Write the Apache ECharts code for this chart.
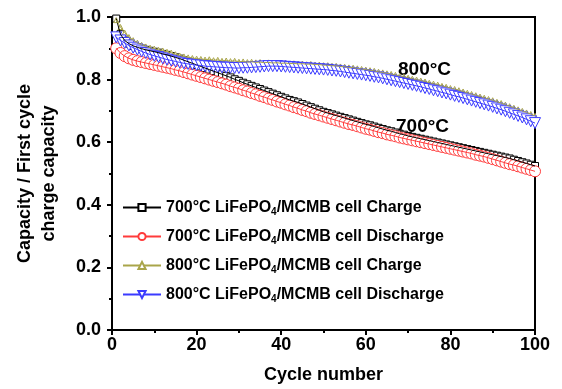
<!DOCTYPE html>
<html>
<head>
<meta charset="utf-8">
<script src="https://cdn.jsdelivr.net/npm/echarts@6/dist/echarts.min.js"></script>
<style>
  html, body { margin: 0; padding: 0; background: #fff; }
  #chart { width: 562px; height: 389px; }
</style>
</head>
<body>
<div id="chart"></div>
<script>
// Capacity retention of LiFePO4/MCMB cells, normalised to first-cycle charge capacity
const cycles = Array.from({ length: 100 }, (_, i) => i + 1);

const seriesNames = [
  '700°C LiFePO4/MCMB cell Charge',
  '700°C LiFePO4/MCMB cell Discharge',
  '800°C LiFePO4/MCMB cell Charge',
  '800°C LiFePO4/MCMB cell Discharge'
];

const charge700 = [
  0.995, 0.945, 0.925, 0.915, 0.908, 0.903, 0.899, 0.895, 0.892, 0.889,
  0.886, 0.882, 0.879, 0.875, 0.871, 0.867, 0.862, 0.857, 0.852, 0.847,
  0.842, 0.837, 0.832, 0.827, 0.822, 0.817, 0.812, 0.807, 0.801, 0.796,
  0.790, 0.785, 0.780, 0.775, 0.770, 0.765, 0.760, 0.755, 0.750, 0.745,
  0.740, 0.735, 0.731, 0.727, 0.722, 0.717, 0.712, 0.707, 0.702, 0.697,
  0.693, 0.689, 0.685, 0.681, 0.677, 0.673, 0.669, 0.665, 0.661, 0.657,
  0.654, 0.650, 0.646, 0.642, 0.638, 0.635, 0.631, 0.627, 0.624, 0.620,
  0.617, 0.614, 0.611, 0.608, 0.605, 0.602, 0.599, 0.596, 0.593, 0.590,
  0.587, 0.584, 0.581, 0.578, 0.575, 0.572, 0.569, 0.566, 0.563, 0.560,
  0.557, 0.554, 0.551, 0.548, 0.544, 0.540, 0.536, 0.532, 0.528, 0.524
];

const discharge700 = [
  0.900, 0.885, 0.875, 0.868, 0.863, 0.859, 0.856, 0.853, 0.850, 0.847,
  0.844, 0.841, 0.838, 0.835, 0.831, 0.828, 0.824, 0.820, 0.816, 0.812,
  0.808, 0.804, 0.800, 0.796, 0.792, 0.788, 0.784, 0.779, 0.775, 0.771,
  0.766, 0.762, 0.757, 0.753, 0.748, 0.744, 0.739, 0.735, 0.730, 0.726,
  0.721, 0.717, 0.712, 0.708, 0.703, 0.699, 0.694, 0.690, 0.686, 0.682,
  0.678, 0.674, 0.670, 0.666, 0.662, 0.658, 0.655, 0.651, 0.647, 0.643,
  0.640, 0.636, 0.632, 0.629, 0.625, 0.622, 0.619, 0.615, 0.612, 0.609,
  0.606, 0.603, 0.600, 0.597, 0.594, 0.591, 0.588, 0.585, 0.582, 0.579,
  0.576, 0.573, 0.570, 0.567, 0.564, 0.560, 0.557, 0.554, 0.550, 0.546,
  0.542, 0.538, 0.534, 0.530, 0.527, 0.523, 0.519, 0.515, 0.511, 0.507
];

const charge800 = [
  0.990, 0.968, 0.950, 0.936, 0.926, 0.918, 0.911, 0.906, 0.902, 0.899,
  0.895, 0.893, 0.889, 0.886, 0.881, 0.877, 0.874, 0.871, 0.869, 0.867,
  0.866, 0.864, 0.865, 0.862, 0.863, 0.860, 0.861, 0.859, 0.860, 0.857,
  0.858, 0.856, 0.857, 0.855, 0.856, 0.854, 0.855, 0.853, 0.854, 0.852,
  0.853, 0.851, 0.852, 0.850, 0.851, 0.849, 0.850, 0.848, 0.848, 0.846,
  0.846, 0.844, 0.844, 0.842, 0.841, 0.839, 0.838, 0.836, 0.834, 0.832,
  0.830, 0.828, 0.825, 0.823, 0.820, 0.818, 0.815, 0.812, 0.809, 0.806,
  0.803, 0.800, 0.797, 0.794, 0.790, 0.787, 0.784, 0.780, 0.777, 0.773,
  0.770, 0.766, 0.762, 0.758, 0.754, 0.750, 0.746, 0.742, 0.738, 0.734,
  0.729, 0.725, 0.720, 0.715, 0.710, 0.705, 0.700, 0.695, 0.690, 0.684
];

const discharge800 = [
  0.935, 0.925, 0.917, 0.909, 0.902, 0.896, 0.890, 0.885, 0.880, 0.876,
  0.872, 0.868, 0.864, 0.861, 0.858, 0.855, 0.852, 0.850, 0.848, 0.846,
  0.845, 0.843, 0.842, 0.841, 0.840, 0.839, 0.838, 0.838, 0.837, 0.837,
  0.838, 0.838, 0.839, 0.840, 0.841, 0.842, 0.843, 0.843, 0.843, 0.842,
  0.841, 0.840, 0.839, 0.838, 0.837, 0.836, 0.835, 0.834, 0.833, 0.832,
  0.831, 0.829, 0.828, 0.826, 0.824, 0.822, 0.820, 0.818, 0.816, 0.814,
  0.812, 0.809, 0.807, 0.804, 0.801, 0.798, 0.795, 0.792, 0.789, 0.786,
  0.783, 0.780, 0.777, 0.773, 0.770, 0.766, 0.763, 0.759, 0.756, 0.752,
  0.748, 0.745, 0.741, 0.737, 0.733, 0.729, 0.725, 0.721, 0.717, 0.713,
  0.708, 0.704, 0.699, 0.694, 0.689, 0.684, 0.679, 0.673, 0.667, 0.661
];

const xTicks = [0, 20, 40, 60, 80, 100];
const yTicks = [0.0, 0.2, 0.4, 0.6, 0.8, 1.0];

const FONT = '"Liberation Sans", Arial, Helvetica, sans-serif';

function pairs(values) {
  return values.map((v, i) => [cycles[i], v]);
}

// Hollow marker outlines, centred on the data point (pixel offsets)
function markerShape(kind, cx, cy, size) {
  const h = size / 2;
  if (kind === 'circle') {
    return { type: 'circle', shape: { cx: cx, cy: cy, r: h } };
  }
  if (kind === 'square') {
    return { type: 'rect', shape: { x: cx - h, y: cy - h, width: size, height: size } };
  }
  const up = kind === 'up' ? 1 : -1;
  return {
    type: 'polygon',
    shape: { points: [[cx, cy - up * h], [cx + h, cy + up * h], [cx - h, cy + up * h]] }
  };
}

// Thin connecting line for one data set
function lineSeries(name, values, color, symbol, size, rotate) {
  return {
    name: name,
    type: 'line',
    data: pairs(values),
    symbol: symbol,
    symbolSize: size,
    symbolRotate: rotate || 0,
    showSymbol: false,
    lineStyle: { color: color, width: 1 },
    itemStyle: { color: color },
    z: 2
  };
}

// Every cycle's hollow marker, placed through the cartesian axes
function markerSeries(name, values, color, kind, size) {
  return {
    name: name,
    type: 'custom',
    data: pairs(values),
    encode: { x: 0, y: 1 },
    clip: false,
    silent: true,
    z: 2,
    renderItem: function (params, api) {
      const p = api.coord([api.value(0), api.value(1)]);
      const el = markerShape(kind, p[0], p[1], size);
      el.style = { fill: '#fff', stroke: color, lineWidth: 1 };
      return el;
    }
  };
}

const chart = echarts.init(document.getElementById('chart'), null, { renderer: 'canvas' });

chart.setOption({
  animation: false,
  backgroundColor: '#fff',
  grid: {
    left: 112, right: 27, top: 17, bottom: 56,
    show: true, borderColor: '#000', borderWidth: 2, backgroundColor: 'transparent'
  },
  xAxis: {
    type: 'value',
    min: xTicks[0], max: xTicks[xTicks.length - 1], interval: 20,
    name: 'Cycle number',
    nameLocation: 'middle',
    nameGap: 36,
    nameTextStyle: { fontFamily: FONT, fontWeight: 'bold', fontSize: 18, color: '#000' },
    axisLine: { lineStyle: { color: '#000', width: 2 } },
    axisTick: { length: 5, lineStyle: { width: 2, color: '#000' } },
    minorTick: { show: true, splitNumber: 2, length: 3, lineStyle: { width: 2, color: '#000' } },
    splitLine: { show: false },
    axisLabel: { fontFamily: FONT, fontWeight: 'bold', fontSize: 18, color: '#000', margin: 6 }
  },
  yAxis: {
    type: 'value',
    min: yTicks[0], max: yTicks[yTicks.length - 1], interval: 0.2,
    name: 'Capacity / First cycle\ncharge capacity',
    nameLocation: 'middle',
    nameGap: 51,
    nameTextStyle: { fontFamily: FONT, fontWeight: 'bold', fontSize: 18, color: '#000', lineHeight: 24 },
    axisLine: { lineStyle: { color: '#000', width: 2 } },
    axisTick: { length: 5, lineStyle: { width: 2, color: '#000' } },
    minorTick: { show: true, splitNumber: 2, length: 3, lineStyle: { width: 2, color: '#000' } },
    splitLine: { show: false },
    axisLabel: {
      fontFamily: FONT, fontWeight: 'bold', fontSize: 18, color: '#000', margin: 11,
      formatter: v => v.toFixed(1)
    }
  },
  legend: {
    orient: 'vertical',
    left: 117, top: 194,
    itemWidth: 38, itemHeight: 9, itemGap: 11,
    data: seriesNames,
    selectedMode: false,
    formatter: name => '{t|' + name.replace('PO4', 'PO}{s|4}{t|') + '}',
    textStyle: {
      fontFamily: FONT, fontWeight: 'bold', fontSize: 16, color: '#000',
      rich: {
        t: { fontFamily: FONT, fontWeight: 'bold', fontSize: 16, color: '#000', lineHeight: 19 },
        s: { fontFamily: FONT, fontWeight: 'bold', fontSize: 10, color: '#000', lineHeight: 19, verticalAlign: 'bottom', padding: [8, 0, 0, 0] }
      }
    }
  },
  graphic: [
    { type: 'text', left: 398, top: 60, style: { text: '800°C', font: 'bold 19px ' + FONT, fill: '#000' } },
    { type: 'text', left: 396, top: 117, style: { text: '700°C', font: 'bold 19px ' + FONT, fill: '#000' } }
  ],
  series: [
    lineSeries(seriesNames[0], charge700, '#000000', 'emptyRect', 7),
    markerSeries(seriesNames[0], charge700, '#000000', 'square', 7),
    lineSeries(seriesNames[1], discharge700, '#ff3b3b', 'emptyCircle', 10),
    markerSeries(seriesNames[1], discharge700, '#ff3b3b', 'circle', 11),
    lineSeries(seriesNames[2], charge800, '#a9a54a', 'emptyTriangle', 5),
    markerSeries(seriesNames[2], charge800, '#a9a54a', 'up', 5),
    lineSeries(seriesNames[3], discharge800, '#3b3bff', 'emptyTriangle', 10, 180),
    markerSeries(seriesNames[3], discharge800, '#3b3bff', 'down', 11)
  ]
});
</script>
</body>
</html>
